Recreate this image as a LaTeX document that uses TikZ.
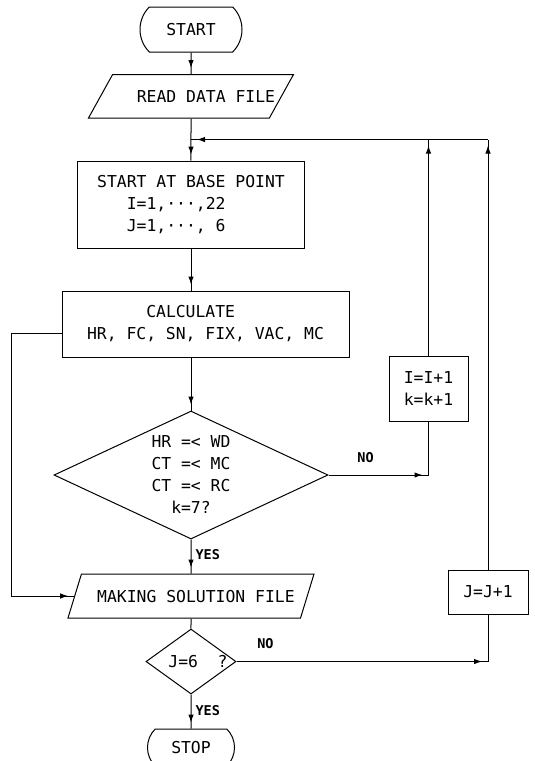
\documentclass[tikz,border=0pt]{standalone}
\usepackage{fontspec}
\usetikzlibrary{arrows.meta,positioning,calc,shapes.geometric,shapes.misc,decorations.markings}
\newfontfamily\plotfont{DejaVu Sans Mono}

\begin{document}
\begin{tikzpicture}[
  x=1pt, y=-1pt, line width=1pt,
  term/.style={draw, rounded rectangle, rounded rectangle arc length=90, minimum width=106pt, minimum height=45pt, inner sep=2pt, font=\plotfont\fontsize{16.4}{22}\selectfont},
  io/.style={draw, trapezium, trapezium stretches body, trapezium left angle=61, trapezium right angle=119, text height=12pt, text depth=0pt, inner xsep=3pt, inner ysep=15.75pt, font=\plotfont\fontsize{16.4}{22}\selectfont},
  box/.style={draw, align=center, inner sep=2pt, font=\plotfont\fontsize{16.4}{22}\selectfont},
  decide/.style={draw, diamond, aspect=2.14, inner sep=0pt, align=center, font=\plotfont\fontsize{16.4}{22}\selectfont},
  lbl/.style={font=\plotfont\bfseries\fontsize{13.5}{16}\selectfont, inner sep=4pt},
  arr/.style={postaction={decorate, decoration={markings, mark=at position -6pt with {\arrow{Latex[length=8pt,width=5.5pt]}}}}}
]
\useasboundingbox (0,0) rectangle (535,761);

\node[term] (start) at (191,29.5) {START};
\node[io, minimum width=205pt, below=21.5pt of start] (read) {\hspace*{15pt}READ DATA FILE\hspace*{-15pt}};
\node[box, align=left, minimum width=227pt, minimum height=87pt, below=42pt of read] (base) {START AT BASE POINT\\\hphantom{STA}I=1,···,22\\\hphantom{STA}J=1,···, 6};
\coordinate (join) at ($(read.south)!0.5!(base.north)$);
\node[box, align=left, minimum width=287pt, minimum height=66pt, below=42pt of base, xshift=14.5pt] (calc) {\hphantom{HR, FC}CALCULATE\\HR, FC, SN, FIX, VAC, MC};
\node[decide, minimum width=274pt, minimum height=128pt, anchor=north] (dec) at ($(base |- calc.south)+(0,53)$) {HR =< WD\\CT =< MC\\CT =< RC\\k=7?};
\node[io, trapezium left angle=73, trapezium right angle=107, inner ysep=16pt, minimum width=246pt, below=34pt of dec] (making) {\hspace*{5pt}MAKING SOLUTION FILE\hspace*{-5pt}};
\node[decide, aspect=1.38, minimum width=90pt, minimum height=65pt, below=10pt of making] (jsix) {\hspace*{7pt}J=6\ \ ?\hspace*{-7pt}};
\node[term, minimum width=91pt, minimum height=37pt, below=34pt of jsix] (stop) {STOP};

\node[box, minimum width=79pt, minimum height=65pt] (iinc) at (428.5,388.5) {I=I+1\\k=k+1};
\node[box, minimum width=80pt, minimum height=44pt] (jinc) at (488,592) {J=J+1};

\draw[arr] (start) -- (read);
\draw[arr] (read) -- (base);
\draw[arr] (base) -- (base |- calc.north);
\draw[arr] (calc.south -| dec) -- (dec);
\draw[arr] (dec) -- node[lbl, right, pos=0.44] (yesa) {YES} (making);
\draw (making) -- (jsix);
\draw[arr] (jsix) -- node[lbl, right, pos=0.47] (yesb) {YES} (stop);
\draw[arr] (dec.east) -- node[lbl, above=8pt, pos=0.37] (noa) {NO} (dec.east -| iinc);
\draw (dec.east -| iinc) -- (iinc);
\draw[arr] (iinc) -- (iinc |- join);
\draw[arr] (jsix.east) -- node[lbl, above=8pt, pos=0.115] (nob) {NO} (jsix.east -| jinc);
\draw (jsix.east -| jinc) -- (jinc);
\draw[arr] (jinc) -- (jinc |- join);
\draw[arr] (jinc |- join) -- (join);
\draw[arr] ([yshift=-9pt]calc.west) -- ++(-50,0) |- (making.west);

\end{tikzpicture}
\end{document}
